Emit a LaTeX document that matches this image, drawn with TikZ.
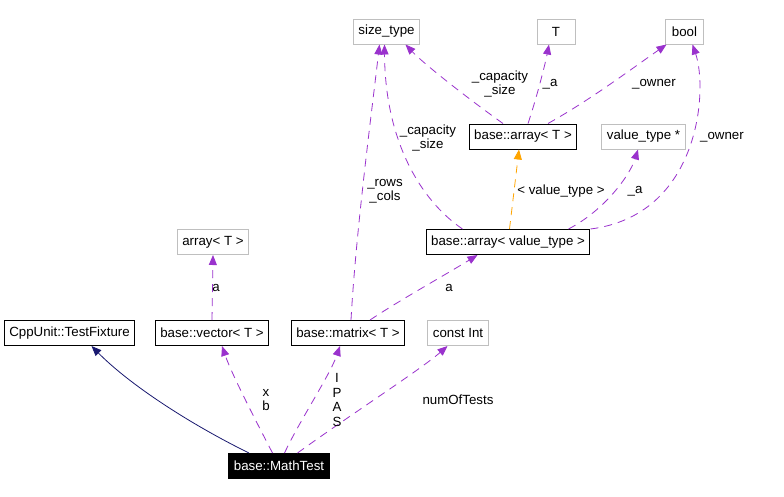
\documentclass[tikz,border=0pt]{standalone}
\usepackage{fontspec}
\setmainfont{Liberation Sans}
\usetikzlibrary{arrows.meta}
\definecolor{orchid}{HTML}{9A32CD}
\definecolor{midnight}{HTML}{191970}
\definecolor{tplorange}{HTML}{FFA500}
\definecolor{boxgray}{HTML}{BFBFBF}

\begin{document}
\begin{tikzpicture}[
  x=1pt, y=-1pt,
  >={Triangle[length=10pt, width=8pt]},
  every node/.style={font=\fontsize{13.3}{14.5}\selectfont, text=black},
  cls/.style={draw=black, line width=1pt, inner xsep=5pt, inner ysep=0pt, minimum height=25pt, minimum width=38pt},
  ext/.style={cls, draw=boxgray},
  cur/.style={cls, fill=black, text=white},
  use/.style={orchid, line width=0.8pt, dash pattern=on 8pt off 6pt, ->},
  inh/.style={midnight, line width=0.8pt, ->},
  tpl/.style={tplorange, line width=0.8pt, dash pattern=on 8pt off 6pt, ->},
  lbl/.style={align=center, inner sep=1pt},
]

% Background
\fill[white] (0,0) rectangle (784,496);

% Top row: member types
\node[ext] (st) at (386.5,31.5) {size\_type};
\node[ext] (tt) at (556,31.5) {T};
\node[ext] (bool) at (684.5,31.5) {bool};

% Template classes
\node[cls] (bat) at (523,136.5) {base::array< T >};
\node[ext] (vt) at (643.5,136.5) {value\_type *};
\node[ext] (arr) at (213,242) {array< T >};
\node[cls] (bav) at (508,242) {base::array< value\_type >};

% Used classes
\node[cls] (tf) at (69.5,333) {CppUnit::TestFixture};
\node[cls] (vec) at (212,333) {base::vector< T >};
\node[cls] (mat) at (348,333) {base::matrix< T >};
\node[ext] (ci) at (458,333) {const Int};

% The documented class
\node[cur] (mt) at (279,466) {base::MathTest};

% --- Edges from base::MathTest ---
\draw[inh] ([xshift=-30pt]mt.north) .. controls (190,424) and (130,385) .. ([xshift=22pt]tf.south);
\draw[use] ([xshift=-6.5pt]mt.north) .. controls (258,425) and (232,375) .. ([xshift=10pt]vec.south);
\draw[use] ([xshift=5.5pt]mt.north) .. controls (300,420) and (330,375) .. ([xshift=-8pt]mat.south);
\draw[use] ([xshift=18.5pt]mt.north) .. controls (350,415) and (420,370) .. ([xshift=-10.5pt]ci.south);
\node[lbl] (lxb) at (266,400) {x\\b};
\node[lbl] (lipas) at (337,400) {I\\P\\A\\S};
\node[lbl] (lnum) at (458,400) {numOfTests};

% --- vector and matrix ---
\draw[use] (vec.north) -- (arr.south);
\node[lbl] (la1) at (216,288) {a};
\draw[use] ([xshift=3pt]mat.north) .. controls (356,230) and (372,110) .. ([xshift=-7pt]st.south);
\node[lbl] (lrows) at (385,191) {\_rows\\\_cols};
\draw[use] ([xshift=22pt]mat.north) .. controls (400,300) and (445,275) .. ([xshift=-30.5pt]bav.south);
\node[lbl] (la2) at (449,288) {a};

% --- base::array< value_type > ---
\draw[use] ([xshift=-45.5pt]bav.north) .. controls (420,200) and (385,140) .. ([xshift=-2pt]st.south);
\node[lbl] (lcap2) at (428,138) {\_capacity\\\_size};
\draw[tpl] ([xshift=1.5pt]bav.north) -- ([xshift=-4pt]bat.south);
\node[lbl] (ltpl) at (561,191) {< value\_type >};
\draw[use] ([xshift=60.5pt]bav.north) .. controls (605,210) and (630,175) .. ([xshift=-5.5pt]vt.south);
\node[lbl] (la3) at (635,191) {\_a};
\draw[use] ([xshift=82.5pt]bav.north) .. controls (700,215) and (708,90) .. ([xshift=8pt]bool.south);
\node[lbl] (lown2) at (722,137) {\_owner};

% --- base::array< T > ---
\draw[use] ([xshift=-20pt]bat.north) .. controls (470,100) and (425,65) .. ([xshift=19pt]st.south);
\node[lbl] (lcap1) at (500,84) {\_capacity\\\_size};
\draw[use] ([xshift=5pt]bat.north) .. controls (536,100) and (545,65) .. ([xshift=-7pt]tt.south);
\node[lbl] (la4) at (550,84) {\_a};
\draw[use] ([xshift=25pt]bat.north) .. controls (590,100) and (630,70) .. ([xshift=-18pt]bool.south);
\node[lbl] (lown1) at (654,84) {\_owner};

\end{tikzpicture}
\end{document}
